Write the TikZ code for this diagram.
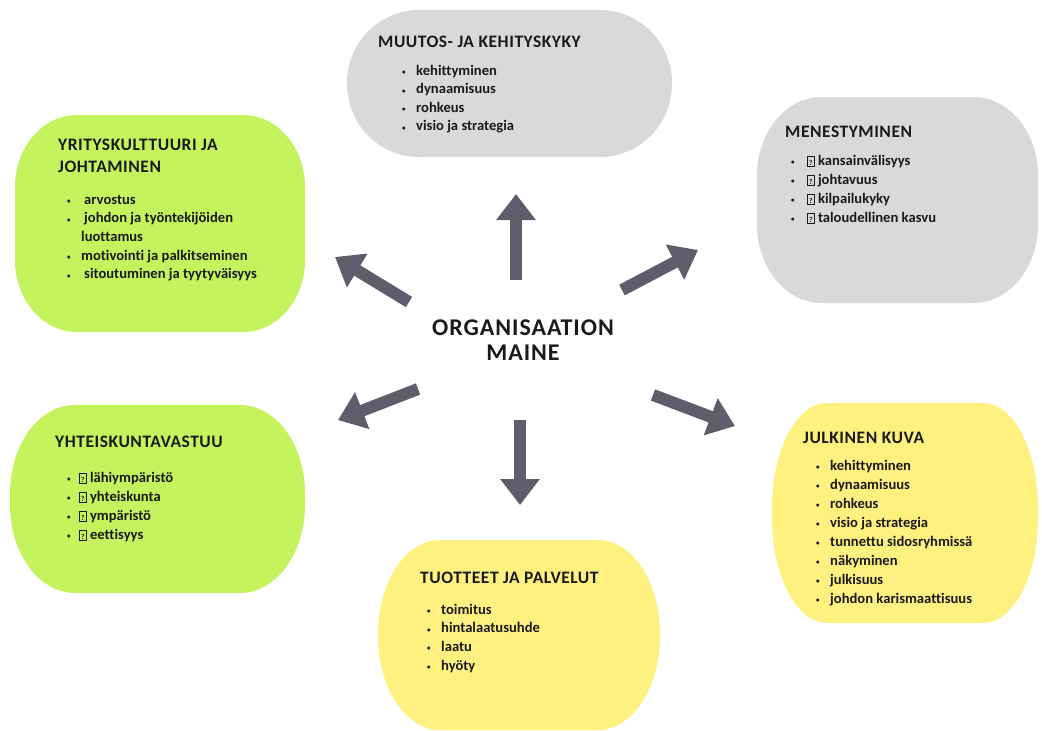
\documentclass[tikz,border=0pt]{standalone}
\usepackage{fontspec}
\setmainfont{Carlito}[Ligatures=NoCommon]
\usepackage{xcolor}
\usepackage{tikz}
\usetikzlibrary{arrows.meta}
\definecolor{greenbox}{HTML}{C5F35E}
\definecolor{yellowbox}{HTML}{FFF180}
\definecolor{greybox}{HTML}{D9D9D9}
\definecolor{arrowgray}{HTML}{5E5D6B}
\definecolor{textblack}{HTML}{1A1A1A}
\newcommand{\bul}{\makebox[14pt][l]{\raisebox{0.5pt}{\scriptsize\textbullet}}}
\newcommand{\qb}{{\setlength{\fboxsep}{0pt}\setlength{\fboxrule}{0.5pt}%
  \fbox{\makebox[6.5pt]{\rule[-1pt]{0pt}{10pt}\fontsize{7.5}{7.5}\selectfont ?}}}}
% colour, x1, y1, x2, y2, rx, ry
\newcommand{\blob}[7]{%
  \fill[#1] (#2,#3+#7) arc[start angle=180,end angle=270,x radius=#6,y radius=#7]
    -- (#4-#6,#3) arc[start angle=270,end angle=360,x radius=#6,y radius=#7]
    -- (#4,#5-#7) arc[start angle=0,end angle=90,x radius=#6,y radius=#7]
    -- (#2+#6,#5) arc[start angle=90,end angle=180,x radius=#6,y radius=#7] -- cycle;}
\tikzset{
  headtxt/.style={anchor=base west,inner sep=0pt,text=textblack,
    font=\fontsize{17.5}{20}\selectfont\bfseries\addfontfeature{LetterSpace=3}},
  itemtxt/.style={anchor=base west,inner sep=0pt,text=textblack,
    font=\fontsize{14.6}{17}\selectfont\bfseries},
  bigarrow/.style={line width=12pt,draw=arrowgray,
    -{Triangle[width=38pt,length=26pt]}}
}

\begin{document}
\begin{tikzpicture}[x=1pt,y=-1pt]
  \fill[white] (0,0) rectangle (1042,731);
  \useasboundingbox (0,0) rectangle (1042,731);
  % boxes
  \blob{greybox}{347}{10}{672}{157}{72}{73}
  \blob{greenbox}{15}{115}{305}{332}{62}{72}
  \blob{greybox}{757}{97}{1038}{303}{65}{78}
  \blob{greenbox}{10}{405}{305}{593}{65}{88}
  \blob{yellowbox}{772}{403}{1038}{623}{55}{105}
  \blob{yellowbox}{378}{540}{660}{730}{62}{94}

  % centre
  \node[align=center,inner sep=0pt,text=textblack,
    font=\fontsize{24}{25}\selectfont\bfseries\addfontfeature{LetterSpace=4}] (maine) at (523,340)
    {ORGANISAATION\\MAINE};

  % muutos- ja kehityskyky
  \node[headtxt] (muutos) at (378,47) {MUUTOS- JA KEHITYSKYKY};
  \foreach \t [count=\i from 0] in {kehittyminen,dynaamisuus,rohkeus,visio ja strategia}
    \node[itemtxt] (muutos-\i) at (402,{75+18.5*\i}) {\bul\t};

  % yrityskulttuuri
  \node[headtxt] (yritys) at (58,150) {YRITYSKULTTUURI JA};
  \node[headtxt] (yritys-2) at (58,172) {JOHTAMINEN};
  \foreach \t [count=\i from 0] in {\bul\hspace{3pt}arvostus,
      \bul\hspace{3pt}johdon ja työntekijöiden,\hspace{14pt}luottamus,
      \bul motivointi ja palkitseminen,\bul\hspace{3pt}sitoutuminen ja tyytyväisyys}
    \node[itemtxt] (yritys-\i) at (67,{204+18.7*\i}) {\t};

  % menestyminen
  \node[headtxt] (menest) at (785,137) {MENESTYMINEN};
  \foreach \t [count=\i from 0] in {kansainvälisyys,johtavuus,kilpailukyky,taloudellinen kasvu}
    \node[itemtxt] (menest-\i) at (791,{165+19*\i}) {\bul\hspace{2pt}\qb\ \t};

  % yhteiskuntavastuu
  \node[headtxt] (yhteis) at (55,447) {YHTEISKUNTAVASTUU};
  \foreach \t [count=\i from 0] in {lähiympäristö,yhteiskunta,ympäristö,eettisyys}
    \node[itemtxt] (yhteis-\i) at (67,{482+19*\i}) {\makebox[12pt][l]{\raisebox{0.5pt}{\scriptsize\textbullet}}\qb\ \t};

  % julkinen kuva
  \node[headtxt] (julk) at (803,443) {JULKINEN KUVA};
  \foreach \t [count=\i from 0] in {kehittyminen,dynaamisuus,rohkeus,visio ja strategia,
      tunnettu sidosryhmissä,näkyminen,julkisuus,johdon karismaattisuus}
    \node[itemtxt] (julk-\i) at (816,{470+19*\i}) {\bul\t};

  % tuotteet ja palvelut
  \node[headtxt] (tuott) at (420,583) {TUOTTEET JA PALVELUT};
  \foreach \t [count=\i from 0] in {toimitus,hintalaatusuhde,laatu,hyöty}
    \node[itemtxt] (tuott-\i) at (427,{614+18.7*\i}) {\bul\t};

  % arrows
  \coordinate (upT) at (516,280);  \coordinate (upH) at (516,194);
  \coordinate (urT) at (622,290);  \coordinate (urH) at (698,250);
  \coordinate (ulT) at (409,302);  \coordinate (ulH) at (335,257);
  \coordinate (dlT) at (418,389);  \coordinate (dlH) at (338,420);
  \coordinate (dnT) at (520,420);  \coordinate (dnH) at (520,505);
  \coordinate (drT) at (653,395);  \coordinate (drH) at (735,426);
  \draw[bigarrow] (upT) -- (upH);
  \draw[bigarrow] (urT) -- (urH);
  \draw[bigarrow] (ulT) -- (ulH);
  \draw[bigarrow] (dlT) -- (dlH);
  \draw[bigarrow] (dnT) -- (dnH);
  \draw[bigarrow] (drT) -- (drH);
\end{tikzpicture}
\end{document}
